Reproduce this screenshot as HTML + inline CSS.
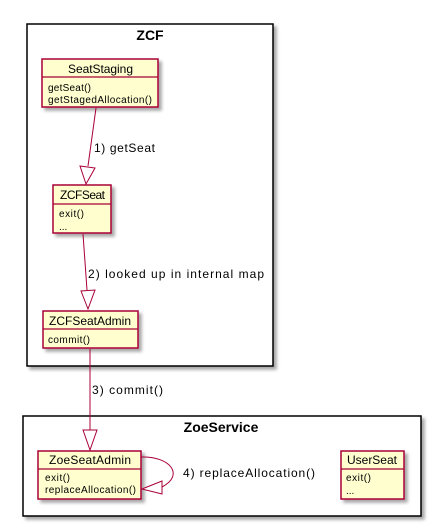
<!DOCTYPE html>
<html><head><style>body{margin:0;background:#fff}svg{display:block}</style></head><body>
<svg width="430" height="527" xmlns="http://www.w3.org/2000/svg" font-family="Liberation Sans, sans-serif">
<defs><filter id="s" x="-10%" y="-10%" width="130%" height="130%"><feDropShadow dx="3" dy="3" stdDeviation="1.5" flood-color="#000" flood-opacity="0.35"/></filter></defs>
<rect x="27" y="24" width="246" height="342" fill="#fff" stroke="#000" stroke-width="1.5" filter="url(#s)"/>
<text x="150" y="40" font-size="14" font-weight="bold" text-anchor="middle">ZCF</text>
<rect x="23" y="416" width="398" height="100" fill="#fff" stroke="#000" stroke-width="1.5" filter="url(#s)"/>
<text x="221" y="432" font-size="14" font-weight="bold" text-anchor="middle">ZoeService</text>
<g fill="#FEFECE" stroke="#A80036" stroke-width="1.5">
<rect x="42" y="59" width="116" height="48" filter="url(#s)"/>
<rect x="53" y="185" width="58" height="48" filter="url(#s)"/>
<rect x="43" y="311" width="95" height="37" filter="url(#s)"/>
<rect x="38" y="451" width="103" height="48" filter="url(#s)"/>
<rect x="341" y="451" width="63" height="48" filter="url(#s)"/>
</g>
<g stroke="#A80036" stroke-width="1.2">
<line x1="42" y1="77" x2="158" y2="77"/><line x1="53" y1="204" x2="111" y2="204"/>
<line x1="43" y1="329" x2="138" y2="329"/><line x1="38" y1="469" x2="141" y2="469"/>
<line x1="341" y1="469" x2="404" y2="469"/>
</g>
<g font-size="12">
<text x="68" y="73" textLength="65">SeatStaging</text>
<text x="60" y="199" textLength="45">ZCFSeat</text>
<text x="49" y="325" textLength="82">ZCFSeatAdmin</text>
<text x="49" y="464" textLength="82">ZoeSeatAdmin</text>
<text x="347" y="464" textLength="50">UserSeat</text>
</g>
<g font-size="10">
<text x="48" y="91" textLength="43">getSeat()</text><text x="48" y="103" textLength="104">getStagedAllocation()</text>
<text x="59" y="217" textLength="25">exit()</text><text x="59" y="230">...</text>
<text x="48" y="343" textLength="42">commit()</text>
<text x="45" y="481" textLength="25">exit()</text><text x="45" y="493" textLength="91">replaceAllocation()</text>
<text x="346" y="481" textLength="25">exit()</text><text x="346" y="494">...</text>
</g>
<g stroke="#A80036" stroke-width="1" fill="none">
<line x1="96" y1="108" x2="88" y2="166"/>
<polygon points="86,184 80,166 95,168" fill="#fff"/>
<line x1="83" y1="234" x2="87" y2="290"/>
<polygon points="88,309 81,291 95,290" fill="#fff"/>
<line x1="90" y1="349" x2="90" y2="430"/>
<polygon points="90,450 83,430 97,430" fill="#fff"/>
<path d="M141,457 C170,456 185,475 162,487"/>
<polygon points="142,489 162,481 162,494" fill="#fff"/>
</g>
<g font-size="12">
<text x="94" y="152" textLength="61">1) getSeat</text>
<text x="88" y="278" textLength="176">2) looked up in internal map</text>
<text x="92" y="394" textLength="71">3) commit()</text>
<text x="183" y="477" textLength="132">4) replaceAllocation()</text>
</g>
</svg>
</body></html>
